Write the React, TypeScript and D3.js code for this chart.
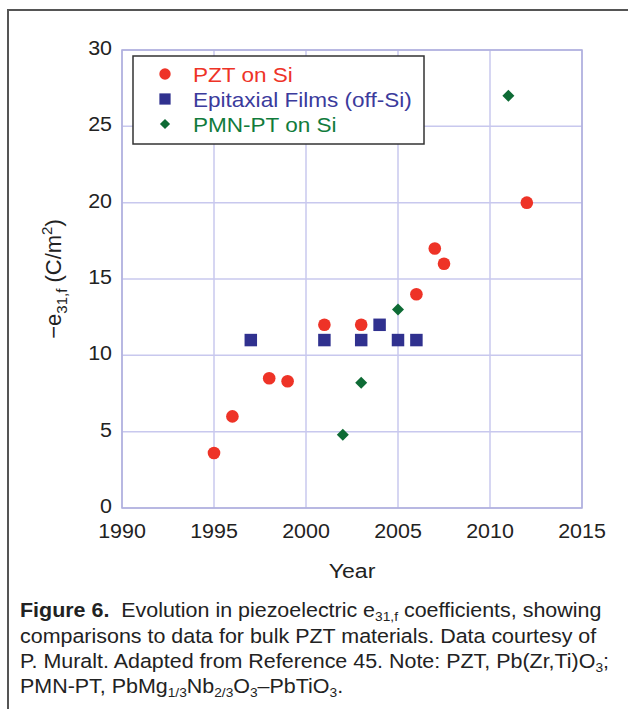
import React from "react";
import * as d3 from "d3";

const xTicks = [1990, 1995, 2000, 2005, 2010, 2015];
const yTicks = [0, 5, 10, 15, 20, 25, 30];

const pztYears = [1995, 1996, 1998, 1999, 2001, 2003, 2006, 2007, 2007.5, 2012];
const pztValues = [3.6, 6, 8.5, 8.3, 12, 12, 14, 17, 16, 20];

const epiYears = [1997, 2001, 2003, 2004, 2005, 2006];
const epiValues = [11, 11, 11, 12, 11, 11];

const pmnYears = [2002, 2003, 2005, 2011];
const pmnValues = [4.8, 8.2, 13, 27];

const seriesNames = ["PZT on Si", "Epitaxial Films (off-Si)", "PMN-PT on Si"];
const seriesColors = ["#ee3327", "#30318f", "#0e6b35"];
const textColors = ["#ee3327", "#3b3b9c", "#117b3c"];

const W = 628;
const H = 709;
const plot = { left: 122, right: 582, top: 50, bottom: 508 };
const SX = 1.1; // the original figure is a little wider than tall
const FONT = "'Liberation Sans', Arial, Helvetica, sans-serif";

function T(props: any) {
  const { x, y, children, sx = SX, ...rest } = props;
  return (
    <text transform={`translate(${x},${y}) scale(${sx},1)`} fontFamily={FONT} fill="#222" {...rest}>
      {children}
    </text>
  );
}

export default function App() {
  const x = d3.scaleLinear().domain([1990, 2015]).range([plot.left, plot.right]);
  const y = d3.scaleLinear().domain([0, 30]).range([plot.bottom, plot.top]);

  const circle = d3.symbol(d3.symbolCircle, 125)();
  const square = d3.symbol(d3.symbolSquare, 156)();
  const diamond = d3.symbol(d3.symbolSquare, 72)();
  const shapes = [circle, square, diamond];
  const rot = [0, 0, 45];

  const series = [
    { xs: pztYears, ys: pztValues },
    { xs: epiYears, ys: epiValues },
    { xs: pmnYears, ys: pmnValues },
  ];

  const grid = "#c8c8ee";
  const sub = { fontSize: 12.5, baselineShift: "-4" };

  return (
    <svg width={W} height={H} style={{ position: "absolute", left: 0, top: 0, background: "#fff" }}>
      {/* figure frame, cropped at the right and bottom */}
      <rect x={8} y={10} width={W + 20} height={H + 20} fill="none" stroke="#555" strokeWidth={2} />

      {/* grid */}
      {xTicks.map((t) => (
        <line key={"gx" + t} x1={x(t)} x2={x(t)} y1={plot.top} y2={plot.bottom} stroke={grid} strokeWidth={1.5} />
      ))}
      {yTicks.map((t) => (
        <line key={"gy" + t} x1={plot.left} x2={plot.right} y1={y(t)} y2={y(t)} stroke={grid} strokeWidth={1.5} />
      ))}
      <rect x={plot.left} y={plot.top} width={plot.right - plot.left} height={plot.bottom - plot.top}
        fill="none" stroke="#aeaedd" strokeWidth={1.5} />

      {/* tick labels */}
      {yTicks.map((t) => (
        <T key={"ty" + t} x={plot.left - 10} y={y(t) + 5} fontSize={19.5} textAnchor="end">{t}</T>
      ))}
      {xTicks.map((t) => (
        <T key={"tx" + t} x={x(t)} y={plot.bottom + 30} fontSize={19.5} textAnchor="middle">{t}</T>
      ))}

      {/* axis titles */}
      <T x={(plot.left + plot.right) / 2} y={578} fontSize={21} textAnchor="middle">Year</T>
      <text transform={`translate(61,${(plot.top + plot.bottom) / 2}) rotate(-90)`} fontFamily={FONT}
        fontSize={22} fill="#222" textAnchor="middle">
        −e<tspan fontSize={15} dy={6}>31,f</tspan>
        <tspan dy={-6}> (C/m</tspan>
        <tspan fontSize={15} dy={-9}>2</tspan>
        <tspan dy={9}>)</tspan>
      </text>

      {/* points */}
      {series.map((s, i) => (
        <g key={"s" + i} fill={seriesColors[i]}>
          {s.xs.map((yr, j) => (
            <path key={j} d={shapes[i]} transform={`translate(${x(yr)},${y(s.ys[j])}) rotate(${rot[i]})`} />
          ))}
        </g>
      ))}

      {/* legend */}
      <rect x={133} y={56} width={291} height={88} fill="#fff" stroke="#333" strokeWidth={1.5} />
      {seriesNames.map((name, i) => (
        <g key={"l" + i}>
          <path d={shapes[i]} fill={seriesColors[i]}
            transform={`translate(165,${74 + i * 25}) rotate(${rot[i]}) scale(${i === 2 ? 0.85 : 0.9})`} />
          <T x={193} y={81.5 + i * 25} fontSize={20.5} fill={textColors[i]}>{name}</T>
        </g>
      ))}

      {/* caption */}
      <T x={20} y={617} fontSize={19.5}>
        <tspan fontWeight="bold">Figure 6.</tspan>
        <tspan>{"\u00a0 Evolution in piezoelectric e"}</tspan>
        <tspan {...sub}>31,f</tspan>
        <tspan> coefficients, showing</tspan>
      </T>
      <T x={20} y={643} fontSize={19.5}>comparisons to data for bulk PZT materials. Data courtesy of</T>
      <T x={20} y={668} fontSize={19.5}>
        P. Muralt. Adapted from Reference 45. Note: PZT, Pb(Zr,Ti)O<tspan {...sub}>3</tspan>;
      </T>
      <T x={20} y={693} fontSize={19.5}>
        PMN-PT, PbMg<tspan {...sub}>1/3</tspan>Nb<tspan {...sub}>2/3</tspan>O<tspan {...sub}>3</tspan>–PbTiO
        <tspan {...sub}>3</tspan>.
      </T>
    </svg>
  );
}
